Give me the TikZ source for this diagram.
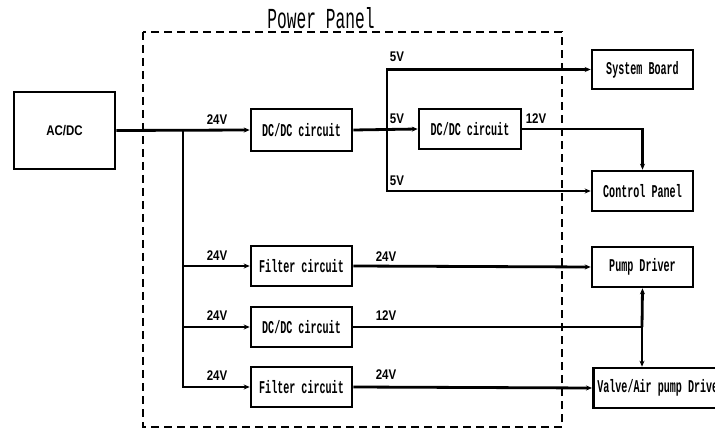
\documentclass[tikz,border=0pt]{standalone}
\usepackage{fontspec}
\usetikzlibrary{arrows.meta}
\newfontfamily\cmono{Liberation Mono}
\newfontfamily\csans{Liberation Sans}
\newcommand{\boxtxt}[1]{\scalebox{0.56}[1]{\cmono\bfseries\fontsize{18}{20}\selectfont #1}}
\newcommand{\volt}[1]{\scalebox{0.82}[1]{\csans\bfseries\fontsize{14}{16}\selectfont #1}}
\begin{document}
\begin{tikzpicture}[x=1pt,y=-1pt,
  blk/.style={draw,line width=2.6pt,minimum width=101pt,minimum height=40pt,inner sep=0pt},
  wire/.style={line width=2.8pt},
  arr/.style={wire,-{Stealth[length=6pt,width=5pt]}},
  vlab/.style={inner sep=0pt}]
\useasboundingbox (0,0) rectangle (715,430);
\begin{scope}
\clip (0,0) rectangle (715,430);
% panel
\draw[line width=2.8pt,dash pattern=on 8pt off 5pt] (143,32) rectangle (562,427);
\node[inner sep=0pt] (title) at (321,18) {\scalebox{0.56}[1]{\cmono\fontsize{29}{32}\selectfont Power Panel}};
% boxes
\node[blk,minimum height=77pt] (acdc) at (64.5,130.5) {\volt{AC/DC}};
\node[blk,minimum height=42pt] (dc1) at (301.5,130) {\boxtxt{DC/DC circuit}};
\node[blk,minimum width=102pt] (dc2) at (470,129) {\boxtxt{DC/DC circuit}};
\node[blk] (fil1) at (301.5,266) {\boxtxt{Filter circuit}};
\node[blk] (dc3) at (301.5,327) {\boxtxt{DC/DC circuit}};
\node[blk] (fil2) at (301.5,387) {\boxtxt{Filter circuit}};
\node[blk,minimum height=39pt] (sys) at (642.5,69.5) {\boxtxt{System Board}};
\node[blk] (ctrl) at (642.5,191) {\boxtxt{Control Panel}};
\node[blk] (pump) at (642.5,267) {\boxtxt{Pump Driver}};
\node[blk,anchor=west,minimum width=0pt,inner xsep=4pt] (valve) at (592,388) {\boxtxt{Valve/Air pump Drive}};
% junctions
\coordinate (J) at (183,130);
\coordinate (B) at (387,130);
\coordinate (K) at (642,327);
% wiring
\draw[arr] (acdc.east) -- (dc1.west);
\draw[arr] (J) |- (fil2.west);
\draw[arr] (J |- fil1.west) -- (fil1.west);
\draw[arr] (J |- dc3.west) -- (dc3.west);
\draw[arr] (dc1.east) -- (dc2.west);
\draw[arr] (B) |- (sys.west);
\draw[arr] (B) |- (ctrl.west);
\draw[arr] (dc2.east) -| (ctrl.north);
\draw[arr] (fil1.east) -- (pump.west);
\draw[arr] (fil2.east) -- (valve.west);
\draw[wire] (dc3.east) -- (K);
\draw[arr] (K) -- (pump.south);
\draw[arr] (K) -- (K |- valve.north);
% labels
\node[vlab] (l1) at (217,120) {\volt{24V}};
\node[vlab] (l2) at (217,256) {\volt{24V}};
\node[vlab] (l3) at (217,316) {\volt{24V}};
\node[vlab] (l4) at (217,376) {\volt{24V}};
\node[vlab] (l5) at (397,57) {\volt{5V}};
\node[vlab] (l6) at (397,119) {\volt{5V}};
\node[vlab] (l7) at (397,181) {\volt{5V}};
\node[vlab] (l8) at (536,119) {\volt{12V}};
\node[vlab] (l9) at (386,257) {\volt{24V}};
\node[vlab] (l10) at (386,316) {\volt{12V}};
\node[vlab] (l11) at (386,375) {\volt{24V}};
\end{scope}
\end{tikzpicture}
\end{document}
